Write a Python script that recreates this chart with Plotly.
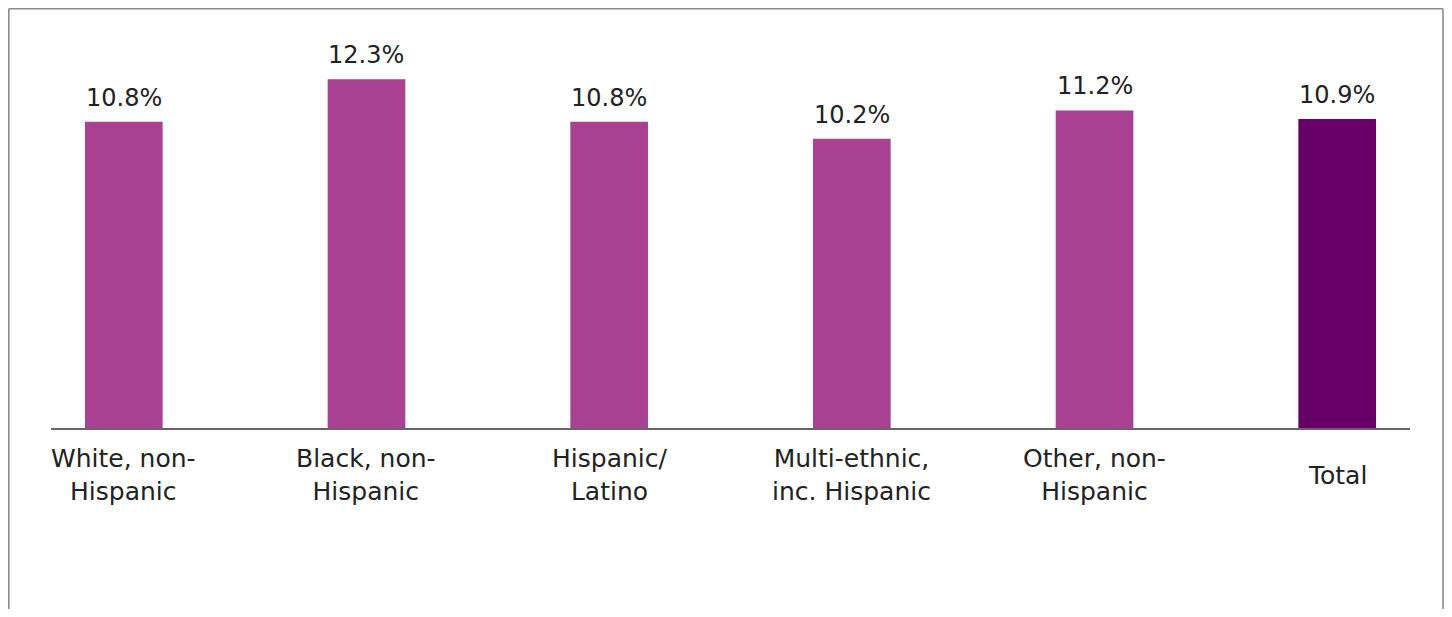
import plotly.graph_objects as go

categories = ["White, non-<br>Hispanic", "Black, non-<br>Hispanic", "Hispanic/<br>Latino",
              "Multi-ethnic,<br>inc. Hispanic", "Other, non-<br>Hispanic", "Total"]
values = [10.8, 12.3, 10.8, 10.2, 11.2, 10.9]
value_labels = ["10.8%", "12.3%", "10.8%", "10.2%", "11.2%", "10.9%"]
bar_colors = ["#A84192", "#A84192", "#A84192", "#A84192", "#A84192", "#660066"]

FONT = "DejaVu Sans"
xs = list(range(len(categories)))

fig = go.Figure()
fig.add_trace(go.Bar(
    x=xs, y=values, width=0.32,
    marker=dict(color=bar_colors, line=dict(width=0)),
    hoverinfo="skip",
))

for x, v, lab in zip(xs, values, value_labels):
    fig.add_annotation(x=x, y=v, text=lab, showarrow=False, xanchor="center",
                       yanchor="middle", yshift=24,
                       font=dict(family=FONT, size=24, color="#222222"))

for x, c in zip(xs, categories):
    fig.add_annotation(x=x, y=0, text=c, showarrow=False, xanchor="center",
                       yanchor="middle", yshift=-47, align="center",
                       font=dict(family=FONT, size=25, color="#222222"))

# outer frame (figure offset 8px by page margin)
W, H = 1436, 601
L, R, T, B = 43, 34, 23, 181
pw, ph = W - L - R, H - T - B
fx0, fx1 = (0.8 - L) / pw, (1435 - L) / pw
fy_top, fy_bot = (H - B - 0.8) / ph, (H - B - H) / ph
frame = dict(type="line", xref="paper", yref="paper", layer="below",
             line=dict(color="#8C8C8C", width=1.6))
fig.add_shape(x0=fx0, x1=fx0, y0=fy_bot, y1=fy_top, **frame)
fig.add_shape(x0=fx0, x1=fx1, y0=fy_top, y1=fy_top, **frame)
fig.add_shape(x0=fx1, x1=fx1, y0=fy_bot, y1=fy_top, **frame)

fig.update_layout(
    width=W, height=H,
    margin=dict(l=L, r=R, t=T, b=B),
    paper_bgcolor="white", plot_bgcolor="white",
    showlegend=False,
    xaxis=dict(range=[-0.3, 5.3], showticklabels=False, showgrid=False, zeroline=False,
               showline=True, linecolor="#666666", linewidth=1.5, ticks=""),
    yaxis=dict(range=[0, 14], visible=False, showgrid=False, zeroline=False),
)

fig.write_html("out.html")
